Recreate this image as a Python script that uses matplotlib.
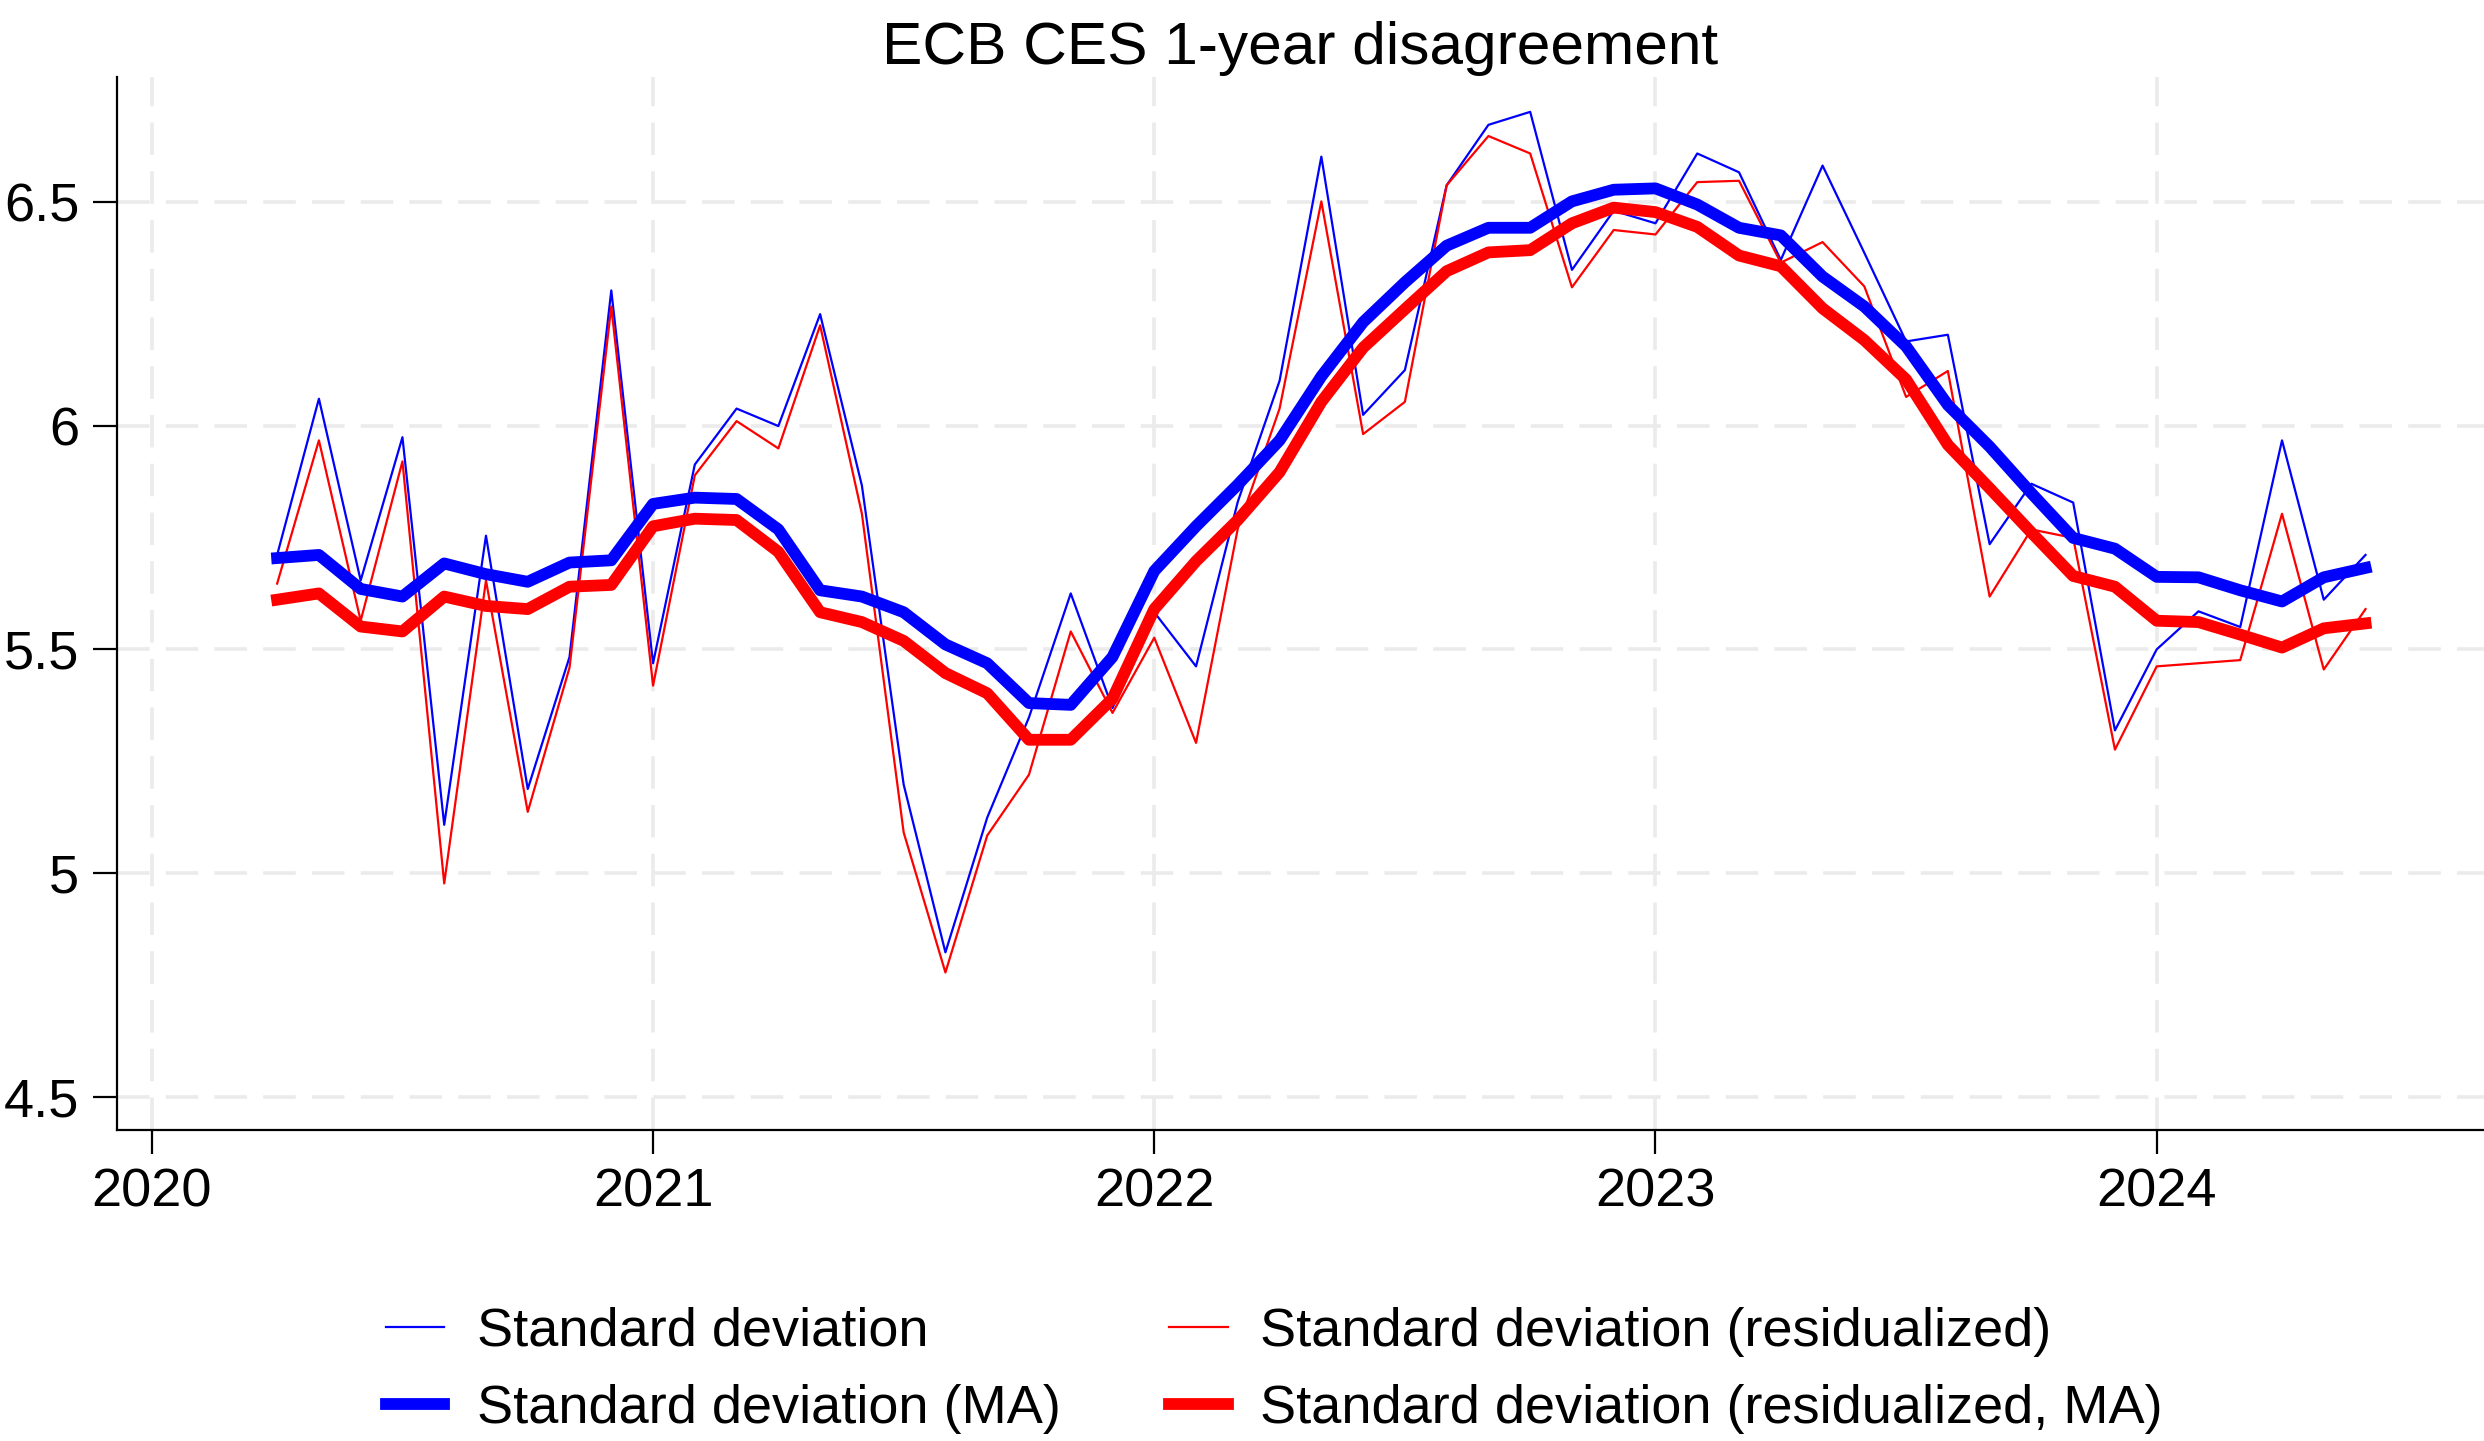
import numpy as np
import matplotlib
matplotlib.use("Agg")
import matplotlib.pyplot as plt

# monthly data, April 2020 - June 2024
start_year = 2020
start_month = 4  # April
n_months = 51

sd = [5.711, 6.060, 5.654, 5.974, 5.108, 5.754, 5.188, 5.483, 6.302,
      5.469, 5.913, 6.038, 5.999, 6.249, 5.866, 5.198, 4.823, 5.124, 5.348, 5.625, 5.369,
      5.583, 5.462, 5.830, 6.100, 6.601, 6.024, 6.124, 6.537, 6.672, 6.701, 6.348, 6.480,
      6.452, 6.608, 6.566, 6.370, 6.581, 6.386, 6.188, 6.203, 5.735, 5.870, 5.828, 5.319,
      5.500, 5.585, 5.550, 5.967, 5.611, 5.711]

sd_resid = [5.647, 5.967, 5.564, 5.920, 4.977, 5.654, 5.137, 5.459, 6.266,
            5.419, 5.889, 6.010, 5.949, 6.224, 5.803, 5.091, 4.778, 5.084, 5.220, 5.540, 5.358,
            5.526, 5.291, 5.770, 6.038, 6.501, 5.981, 6.053, 6.537, 6.647, 6.608, 6.309, 6.437,
            6.427, 6.544, 6.547, 6.364, 6.410, 6.311, 6.064, 6.122, 5.618, 5.768, 5.749, 5.276,
            5.462, 5.469, 5.476, 5.803, 5.455, 5.590]

sd_ma = [5.704, 5.711, 5.635, 5.618, 5.692, 5.668, 5.651, 5.694, 5.699,
         5.825, 5.839, 5.836, 5.768, 5.632, 5.618, 5.583, 5.511, 5.469, 5.380, 5.376, 5.483,
         5.675, 5.775, 5.868, 5.967, 6.110, 6.231, 6.320, 6.402, 6.442, 6.442, 6.501, 6.527,
         6.530, 6.494, 6.442, 6.425, 6.333, 6.266, 6.177, 6.046, 5.953, 5.849, 5.749, 5.725,
         5.662, 5.661, 5.632, 5.607, 5.661, 5.682]

sd_resid_ma = [5.611, 5.625, 5.551, 5.540, 5.618, 5.597, 5.590, 5.640, 5.644,
               5.775, 5.792, 5.789, 5.718, 5.583, 5.561, 5.519, 5.447, 5.402, 5.298, 5.298, 5.390,
               5.590, 5.697, 5.789, 5.896, 6.053, 6.174, 6.260, 6.345, 6.387, 6.392, 6.452, 6.487,
               6.477, 6.444, 6.380, 6.356, 6.262, 6.191, 6.103, 5.957, 5.860, 5.761, 5.664, 5.640,
               5.564, 5.561, 5.533, 5.504, 5.547, 5.558]

year_ticks = [2020, 2021, 2022, 2023, 2024]
y_ticks = [4.5, 5, 5.5, 6, 6.5]
y_ticklabels = ["4.5", "5", "5.5", "6", "6.5"]

# x as fractional year
t = start_year + (start_month - 1 + np.arange(n_months)) / 12.0

plt.rcParams['font.family'] = ['Liberation Sans', 'DejaVu Sans']
fs = 39

fig = plt.figure(figsize=(24.84, 14.41), dpi=100)
ax = fig.add_axes([0.047, 0.2158, 0.953, 0.7308])

ax.plot(t, sd, color=(0, 0, 1), lw=1.6, label="Standard deviation")
ax.plot(t, sd_resid, color=(1, 0, 0), lw=1.6, label="Standard deviation (residualized)")
ax.plot(t, sd_ma, color=(0, 0, 1), lw=8.5, label="Standard deviation (MA)")
ax.plot(t, sd_resid_ma, color=(1, 0, 0), lw=8.5, label="Standard deviation (residualized, MA)")

ax.set_xlim(2019.930, 2024.653)
ax.set_ylim(4.426, 6.779)
ax.set_xticks(year_ticks)
ax.set_xticklabels([str(y) for y in year_ticks])
ax.set_yticks(y_ticks)
ax.set_yticklabels(y_ticklabels)

ax.grid(True, color="#ebebeb", lw=2.6, linestyle=(0, (9, 4.5)))
ax.set_axisbelow(True)

for s in ["top", "right"]:
    ax.spines[s].set_visible(False)
for s in ["left", "bottom"]:
    ax.spines[s].set_linewidth(1.6)
ax.tick_params(axis="both", labelsize=fs, width=1.6, length=17, pad=10)

ax.set_title("ECB CES 1-year disagreement", fontsize=43.5, pad=9)

h, l = ax.get_legend_handles_labels()
order = [0, 2, 1, 3]
fig.legend([h[i] for i in order], [l[i] for i in order], loc="center",
           bbox_to_anchor=(0.513, 0.049), ncol=2, frameon=False, fontsize=fs,
           handlelength=1.08, handletextpad=0.6, columnspacing=2.0,
           labelspacing=0.5, borderpad=0)

fig.savefig("out.png", dpi=100)
